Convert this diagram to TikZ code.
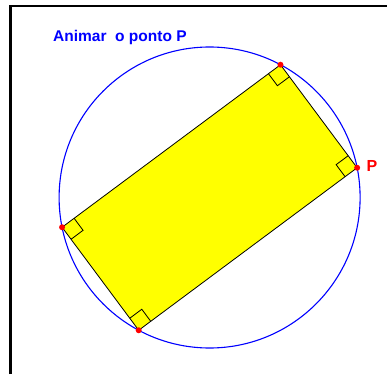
\documentclass[tikz,border=0pt]{standalone}
\usepackage{fontspec}
\setmainfont{Liberation Sans}
\usetikzlibrary{calc}
\definecolor{ablue}{RGB}{0,0,255}
\definecolor{ayellow}{RGB}{255,255,0}
\definecolor{ared}{RGB}{255,0,0}
\tikzset{
  frameline/.style={line width=2.4pt,black},
  circ/.style={draw=ablue,line width=1.1pt},
  rect/.style={draw=black,fill=ayellow,line width=0.8pt},
  rmark/.style={draw=black,line width=0.8pt},
  dot/.style={circle,fill=ared,inner sep=0pt,minimum size=6pt},
  title/.style={text=ablue,font=\fontsize{15.5}{18}\selectfont\bfseries,inner sep=0pt,anchor=base west},
  plabel/.style={text=ared,font=\fontsize{16}{19}\selectfont\bfseries,inner sep=0pt,anchor=base west}
}
\begin{document}
\begin{tikzpicture}[x=1pt,y=-1pt]
\useasboundingbox (0,0) rectangle (387,374);
% frame
\coordinate (f1) at (10.3,374);
\coordinate (f2) at (10.3,6.2);
\coordinate (f3) at (387,6.2);
\draw[frameline] (f1) -- (f2) -- (f3);
% circle
\coordinate (O) at (209.6,197.5);
\draw[circ] (O) circle[radius=150.5];
% vertices
\coordinate (P) at ($(O)+(-11.4:150.5)$);
\coordinate (T) at ($(O)+(-61.9:150.5)$);
\coordinate (L) at ($(O)+(168.6:150.5)$);
\coordinate (B) at ($(O)+(118.1:150.5)$);
\draw[rect] (P) -- (T) -- (L) -- (B) -- cycle;
% right-angle marks
\foreach \v/\a/\b in {T/P/L, P/B/T, L/T/B, B/L/P}{
  \coordinate (ma) at ($(\v)!15pt!(\a)$);
  \coordinate (mb) at ($(\v)!15pt!(\b)$);
  \coordinate (mc) at ($(ma)+(mb)-(\v)$);
  \draw[rmark] (ma) -- (mc) -- (mb);
}
% dots
\node[dot] (dP) at (P) {};
\node[dot] (dT) at (T) {};
\node[dot] (dL) at (L) {};
\node[dot] (dB) at (B) {};
% labels
\node[title] (ttl) at (53,42) {Animar\ \ o ponto P};
\node[plabel] (lp) at (366.5,171) {P};
\end{tikzpicture}
\end{document}
